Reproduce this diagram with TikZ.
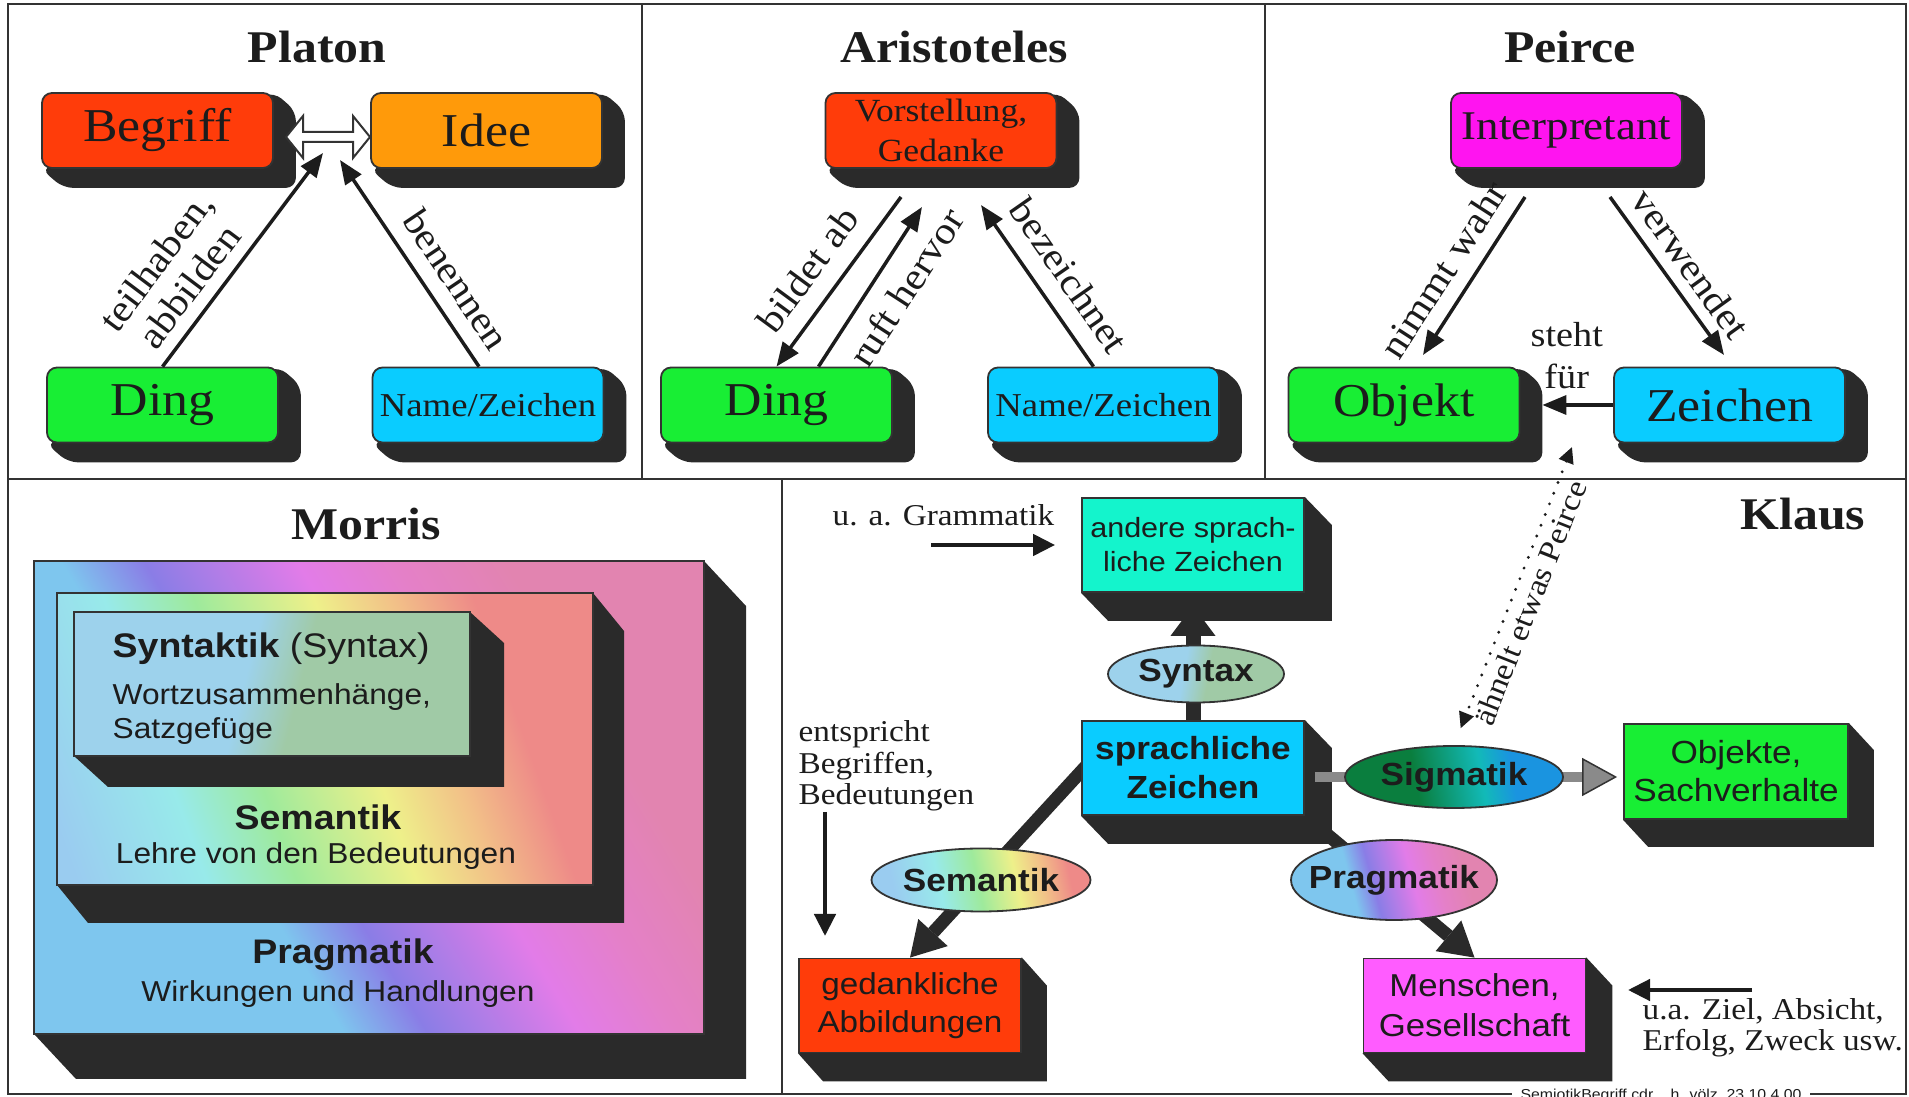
\documentclass[tikz,border=0pt]{standalone}
\usepackage{fontspec}
\setmainfont{Liberation Serif}[FakeStretch=1.1]
\setsansfont{Liberation Sans}[FakeStretch=1.1]
\usetikzlibrary{arrows.meta,shapes.geometric,backgrounds}

\definecolor{framegray}{HTML}{333333}
\definecolor{shadowgray}{HTML}{2A2A2A}
\definecolor{inkgray}{HTML}{1C1C1C}
\definecolor{boxred}{HTML}{FF3C0A}
\definecolor{boxorange}{HTML}{FF9A0A}
\definecolor{boxgreen}{HTML}{18EE34}
\definecolor{boxcyan}{HTML}{0ACCFF}
\definecolor{boxmagenta}{HTML}{FF14F0}
\definecolor{boxpink}{HTML}{FF5CFF}
\definecolor{boxteal}{HTML}{14F4CC}
\definecolor{siggray}{HTML}{8A8A8A}

% rainbow colours for Morris and Klaus
\definecolor{pragA}{HTML}{7EC6EE}
\definecolor{pragB}{HTML}{8A7DE6}
\definecolor{pragC}{HTML}{E27CE8}
\definecolor{pragD}{HTML}{E480C8}
\definecolor{pragE}{HTML}{E284B0}
\definecolor{semA}{HTML}{9ACCF0}
\definecolor{semB}{HTML}{98EAEA}
\definecolor{semC}{HTML}{9EEA9C}
\definecolor{semD}{HTML}{EEF08A}
\definecolor{semE}{HTML}{F2C088}
\definecolor{semF}{HTML}{EE8A88}
\definecolor{syntA}{HTML}{9DD2EC}
\definecolor{syntB}{HTML}{A0CAA6}
\definecolor{sigA}{HTML}{0A7E3E}
\definecolor{sigB}{HTML}{12BAB8}
\definecolor{sigC}{HTML}{1A94E0}

\pgfdeclarehorizontalshading{pragshade}{100bp}{color(0bp)=(pragA); color(38bp)=(pragA); color(44bp)=(pragB); color(55bp)=(pragC); color(62bp)=(pragD); color(70bp)=(pragE); color(100bp)=(pragE)}
\pgfdeclarehorizontalshading{semshade}{100bp}{color(0bp)=(semA); color(20bp)=(semA); color(33bp)=(semB); color(42bp)=(semC); color(54bp)=(semD); color(62bp)=(semE); color(70bp)=(semF); color(100bp)=(semF)}
\pgfdeclarehorizontalshading{semshadeE}{100bp}{color(0bp)=(semA); color(27bp)=(semA); color(39bp)=(semB); color(49bp)=(semC); color(59bp)=(semD); color(66bp)=(semE); color(73bp)=(semF); color(100bp)=(semF)}
\pgfdeclarehorizontalshading{syntshade}{100bp}{color(0bp)=(syntA); color(46bp)=(syntA); color(54bp)=(syntB); color(100bp)=(syntB)}
\pgfdeclarehorizontalshading{sigshade}{100bp}{color(0bp)=(sigA); color(40bp)=(sigA); color(57bp)=(sigB); color(65bp)=(sigC); color(100bp)=(sigC)}

% dark extrusion behind a box node: node, offset, corner radius
\newcommand{\dropblock}[3]{%
  \fill[shadowgray, rounded corners=#3] (#1.north east) -- ++(#2) -- ([shift={(#2)}]#1.south east) -- ([shift={(#2)}]#1.south west) -- (#1.south west) -- cycle;}
% Morris slab: x1, y1, x2, y2, dx, dy, shading
\newcommand{\morrisslab}[7]{%
  \fill[shadowgray] (#3,#2) -- (#3+#5,#2+#6) -- (#3+#5,#4+#6) -- (#1+#5,#4+#6) -- (#1,#4) -- cycle;
  \draw[framegray, line width=0.15mm, shade, #7] (#1,#2) rectangle (#3,#4);}

\begin{document}
\begin{tikzpicture}[x=0.1mm, y=-0.1mm,
    tribox/.style={rectangle, rounded corners=1mm, draw=framegray, line width=0.18mm, minimum width=23.1mm, minimum height=7.5mm, inner sep=0pt, text=inkgray},
    klausbox/.style={rectangle, draw=framegray, line width=0.18mm, minimum width=22.2mm, minimum height=9.4mm, inner sep=0pt, text=inkgray, align=center, font=\sffamily\fontsize{9}{10.9}\selectfont},
    oval/.style={ellipse, draw=framegray, line width=0.18mm, inner xsep=-1.3mm, inner ysep=0pt, shade, text=inkgray, font=\sffamily\bfseries\fontsize{9.1}{10}\selectfont},
    paneltitle/.style={anchor=base, text=inkgray, font=\bfseries\fontsize{12.9}{14}\selectfont},
    bigtxt/.style={font=\fontsize{13.4}{15}\selectfont},
    midtxt/.style={font=\fontsize{9.5}{11}\selectfont},
    lbl/.style={sloped, align=center, text=inkgray, inner sep=1.5mm, font=\fontsize{10.8}{11.8}\selectfont},
    note/.style={text=inkgray, inner sep=0pt, align=left, font=\fontsize{8.6}{8.9}\selectfont},
    sanstxt/.style={text=inkgray, inner sep=0pt, font=\sffamily\fontsize{8.2}{9.4}\selectfont},
    sanshead/.style={text=inkgray, inner sep=0pt, font=\sffamily\fontsize{9.7}{11}\selectfont},
    arr/.style={draw=inkgray, line width=0.35mm, -{Triangle[length=2.4mm, width=1.9mm]}},
    thinarr/.style={draw=inkgray, line width=0.45mm, -{Triangle[length=2.2mm, width=2.1mm]}},
    fatarr/.style={draw=shadowgray, line width=1.3mm, -{Triangle[length=3.4mm, width=4.0mm, line width=0pt]}},
    sigarr/.style={draw=siggray, line width=1.0mm, -{Triangle[length=3.5mm, width=3.8mm, fill=siggray, color=framegray, line width=0.15mm]}},
    dotarr/.style={draw=inkgray, line width=0.32mm, line cap=round, dash pattern=on 0pt off 1.15mm, {Triangle[length=1.6mm, width=1.5mm]}-{Triangle[length=1.6mm, width=1.5mm]}}
  ]
  \useasboundingbox (0,0) rectangle (1909,1097);

  % Frame
  \draw[framegray, line width=0.2mm] (8,4) rectangle (1906,1094);
  \draw[framegray, line width=0.2mm] (8,479) -- (1906,479);
  \draw[framegray, line width=0.2mm] (642,4) -- (642,479);
  \draw[framegray, line width=0.2mm] (1265,4) -- (1265,479);
  \draw[framegray, line width=0.2mm] (782,479) -- (782,1094);

  % Platon
  \node[paneltitle] (plTitle) at (317,63) {Platon};
  \node[tribox, fill=boxred, bigtxt] (plBegriff) at (157.5,130.5) {Begriff};
  \node[tribox, fill=boxorange, bigtxt] (plIdee) at (486.5,130.5) {Idee};
  \node[tribox, fill=boxgreen, bigtxt] (plDing) at (162.5,405) {Ding};
  \node[tribox, fill=boxcyan, midtxt] (plName) at (488,405) {Name/Zeichen};
  \coordinate (plTipA) at (323,153);
  \coordinate (plTipB) at (340,160);
  \coordinate (plEq) at (286,137);
  \draw[arr] (plDing.north) -- (plTipA) node[lbl, pos=0.30, above, inner sep=1.2mm] {teilhaben,\\abbilden};
  \draw[arr] ([xshift=-0.9mm]plName.north) -- (plTipB) node[lbl, pos=0.34, above] {benennen};
  \draw[framegray, line width=0.2mm, fill=white] (plEq) -- ++(17,-21) -- ++(0,16) -- ++(50,0) -- ++(0,-16) -- ++(17,21) -- ++(-17,21) -- ++(0,-16) -- ++(-50,0) -- ++(0,16) -- cycle;

  % Aristoteles
  \node[paneltitle] (arTitle) at (954,63) {Aristoteles};
  \node[tribox, fill=boxred, align=center, font=\fontsize{9.2}{11.4}\selectfont] (arVorst) at (941,130.5) {Vorstellung,\\Gedanke};
  \node[tribox, fill=boxgreen, bigtxt] (arDing) at (776.5,405) {Ding};
  \node[tribox, fill=boxcyan, midtxt] (arName) at (1103.5,405) {Name/Zeichen};
  \coordinate (arBildS) at (901,197);
  \coordinate (arRuftE) at (922,207);
  \coordinate (arBezE) at (981,205);
  \draw[arr] (arBildS) -- (arDing.north) node[lbl, pos=0.54, above, inner sep=1.7mm] {bildet ab};
  \draw[arr] ([xshift=4.2mm]arDing.north) -- (arRuftE) node[lbl, pos=0.60, below] {ruft hervor};
  \draw[arr] ([xshift=-1mm]arName.north) -- (arBezE) node[lbl, pos=0.45, above, inner sep=1.7mm] {bezeichnet};

  % Peirce
  \node[paneltitle] (peTitle) at (1570,63) {Peirce};
  \node[tribox, fill=boxmagenta, font=\fontsize{11.6}{13}\selectfont] (peInterp) at (1566.5,130.5) {Interpretant};
  \node[tribox, fill=boxgreen, bigtxt] (peObjekt) at (1404,405) {Objekt};
  \node[tribox, fill=boxcyan, bigtxt] (peZeichen) at (1729.5,405) {Zeichen};
  \coordinate (peNimmS) at (1525,197);
  \coordinate (peNimmE) at (1423,355);
  \coordinate (peVerwS) at (1610,197);
  \coordinate (peVerwE) at (1724,355);
  \draw[arr] (peNimmS) -- (peNimmE) node[lbl, pos=0.56, above, inner sep=1.4mm] {nimmt wahr};
  \draw[arr] (peVerwS) -- (peVerwE) node[lbl, pos=0.52, above, inner sep=1.1mm] {verwendet};
  \draw[arr, shorten >=2.2mm] (peZeichen.west) -- (peObjekt.east) node[midway, above, inner sep=1.4mm, align=center, text=inkgray, font=\fontsize{9.9}{12.2}\selectfont] {steht\\für};

  % Morris
  \node[paneltitle] (moTitle) at (366,540) {Morris};
  \morrisslab{34}{561}{704}{1034}{42}{45}{shading=pragshade, shading angle=31}
  \morrisslab{57}{593}{593}{885}{31}{38}{shading=semshade, shading angle=20}
  \morrisslab{74}{612}{470}{756}{34}{31}{shading=syntshade, shading angle=-14}
  \node[sanshead, anchor=base west] (moSyntHead) at (112,658) {\textbf{Syntaktik} (Syntax)};
  \node[sanstxt, anchor=base west] (moSyntA) at (112,705) {Wortzusammenhänge,};
  \node[sanstxt, anchor=base west] (moSyntB) at (112,739) {Satzgefüge};
  \node[sanshead, anchor=base] (moSemHead) at (318,830) {\textbf{Semantik}};
  \node[sanstxt, anchor=base] (moSemBody) at (316,864) {Lehre von den Bedeutungen};
  \node[sanshead, anchor=base] (moPragHead) at (343,964) {\textbf{Pragmatik}};
  \node[sanstxt, anchor=base] (moPragBody) at (338,1002) {Wirkungen und Handlungen};

  % Klaus
  \node[paneltitle] (klTitle) at (1803,530) {Klaus};
  \node[klausbox, fill=boxteal, font=\sffamily\fontsize{7.9}{9.7}\selectfont] (klAndere) at (1193,545) {andere sprach-\\liche Zeichen};
  \node[klausbox, fill=boxcyan, font=\sffamily\bfseries\fontsize{9.1}{11.1}\selectfont] (klSprach) at (1193,768) {sprachliche\\Zeichen};
  \node[klausbox, fill=boxred, font=\sffamily\fontsize{8.6}{10.8}\selectfont] (klGedank) at (910,1005.5) {gedankliche\\Abbildungen};
  \node[klausbox, fill=boxgreen, minimum width=22.4mm, minimum height=9.5mm, font=\sffamily\fontsize{9.1}{10.8}\selectfont] (klObjekte) at (1736,771.5) {Objekte,\\Sachverhalte};
  \node[klausbox, fill=boxpink, font=\sffamily\fontsize{9}{11.4}\selectfont] (klMenschen) at (1474.5,1005.5) {Menschen,\\Gesellschaft};
  \node[oval, minimum width=17.6mm, minimum height=5.7mm, shading=syntshade, shading angle=-10] (klSyntax) at (1196,674) {Syntax};
  \node[oval, minimum width=21.9mm, minimum height=6.3mm, shading=semshadeE, shading angle=12] (klSemantik) at (981,880) {Semantik};
  \node[oval, minimum width=21.8mm, minimum height=6.2mm, shading=sigshade, shading angle=10] (klSigmatik) at (1454,777) {Sigmatik};
  \node[oval, minimum width=20.6mm, minimum height=8mm, shading=pragshade, shading angle=15] (klPragmatik) at (1394,880) {Pragmatik};
  \node[note, anchor=base west] (klGram) at (832,526) {u. a. Grammatik};
  \node[note, anchor=west] (klEntspr) at (798,766) {entspricht\\Begriffen,\\Bedeutungen};
  \node[note, anchor=west] (klZiel) at (1642,1028) {u.a. Ziel, Absicht,\\Erfolg, Zweck usw.};
  \coordinate (klGramS) at (931,545);
  \coordinate (klEntS) at (825,812);
  \coordinate (klEntE) at (825,936);
  \coordinate (klZielS) at (1752,990);
  \coordinate (klZielE) at (1628,990);
  \coordinate (klSemS) at (1110,740);
  \coordinate (klPeirce) at (1572,447);
  \draw[thinarr, shorten >=2.6mm] (klGramS) -- (klAndere.west);
  \draw[thinarr] (klEntS) -- (klEntE);
  \draw[thinarr] (klZielS) -- (klZielE);
  \draw[dotarr, shorten >=1.8mm] (klPeirce) -- (klSigmatik.north) node[sloped, pos=0.5, below, inner sep=0.6mm, text=inkgray, font=\fontsize{8.7}{10}\selectfont] {ähnelt etwas Peirce};

  % Footer
  \node[anchor=base, fill=white, inner xsep=0.9mm, inner ysep=0.3mm, text=inkgray, font=\sffamily\fontsize{4.1}{5}\selectfont] (footer) at (1661,1100) {SemiotikBegriff.cdr\hspace{1.2em}h. völz\hspace{0.6em}23.10.4.00};

  % Extrusions and heavy connectors
  \begin{scope}[on background layer]
    \draw[fatarr, line width=1.5mm, -{Triangle[length=3mm, width=4.5mm, line width=0pt]}, shorten >=1.3mm] (klSprach.north) -- (klAndere.south);
    \dropblock{plBegriff}{22,19}{1mm}
    \dropblock{plIdee}{22,19}{1mm}
    \dropblock{plDing}{22,19}{1mm}
    \dropblock{plName}{22,19}{1mm}
    \dropblock{arVorst}{22,19}{1mm}
    \dropblock{arDing}{22,19}{1mm}
    \dropblock{arName}{22,19}{1mm}
    \dropblock{peInterp}{22,19}{1mm}
    \dropblock{peObjekt}{22,19}{1mm}
    \dropblock{peZeichen}{22,19}{1mm}
    \dropblock{klAndere}{27,28}{0pt}
    \dropblock{klSprach}{27,28}{0pt}
    \dropblock{klGedank}{25,28}{0pt}
    \dropblock{klObjekte}{25,27}{0pt}
    \dropblock{klMenschen}{26,28}{0pt}
    \draw[fatarr] (klSemS) -- (klGedank.north);
    \draw[fatarr] (klSprach.south east) -- (klMenschen.north);
    \draw[sigarr, shorten <=1mm, shorten >=0.6mm] (klSprach.east |- klSigmatik.west) -- (klObjekte.west |- klSigmatik.east);
  \end{scope}
\end{tikzpicture}
\end{document}
